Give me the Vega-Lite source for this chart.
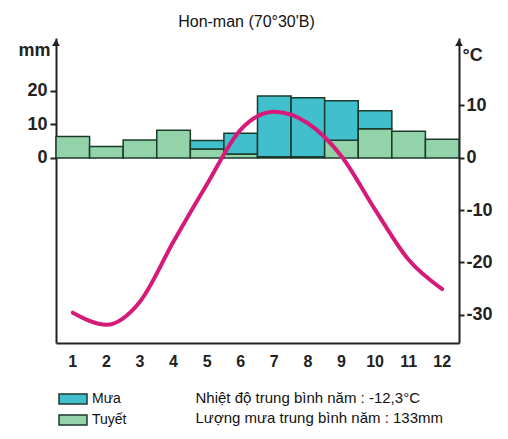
{
  "$schema": "https://vega.github.io/schema/vega-lite/v6.json",
  "width": 403,
  "height": 305,
  "autosize": {"type": "none"},
  "padding": {"left": 56, "top": 38, "right": 49, "bottom": 96},
  "background": "white",
  "title": {
    "text": "Hon-man (70°30'B)",
    "fontSize": 16,
    "font": "Liberation Sans",
    "fontWeight": "normal",
    "color": "#111",
    "dx": -11,
    "offset": 8
  },
  "config": {"view": {"stroke": null}, "font": "Liberation Sans"},
  "datasets": {
    "prec": [
      {"month": 1, "type": "Tuyết", "mm": 6.4},
      {"month": 2, "type": "Tuyết", "mm": 3.4},
      {"month": 3, "type": "Tuyết", "mm": 5.4},
      {"month": 4, "type": "Tuyết", "mm": 8.3},
      {"month": 5, "type": "Tuyết", "mm": 2.7},
      {"month": 5, "type": "Mưa", "mm": 2.5},
      {"month": 6, "type": "Tuyết", "mm": 1.2},
      {"month": 6, "type": "Mưa", "mm": 6.2},
      {"month": 7, "type": "Tuyết", "mm": 0.4},
      {"month": 7, "type": "Mưa", "mm": 18.1},
      {"month": 8, "type": "Tuyết", "mm": 0.4},
      {"month": 8, "type": "Mưa", "mm": 17.6},
      {"month": 9, "type": "Tuyết", "mm": 5.3},
      {"month": 9, "type": "Mưa", "mm": 11.8},
      {"month": 10, "type": "Tuyết", "mm": 8.7},
      {"month": 10, "type": "Mưa", "mm": 5.4},
      {"month": 11, "type": "Tuyết", "mm": 8.0},
      {"month": 12, "type": "Tuyết", "mm": 5.6}
    ],
    "temp": [
      {"month": 1, "t": -29.6},
      {"month": 2, "t": -31.9},
      {"month": 3, "t": -27.5},
      {"month": 4, "t": -16.0},
      {"month": 5, "t": -5.0},
      {"month": 6, "t": 5.4},
      {"month": 7, "t": 8.8},
      {"month": 8, "t": 6.6},
      {"month": 9, "t": 0.3},
      {"month": 10, "t": -9.9},
      {"month": 11, "t": -19.5},
      {"month": 12, "t": -25.1}
    ],
    "one": [{}]
  },
  "layer": [
    {
      "data": {"name": "prec"},
      "mark": {"type": "bar", "stroke": "#1c3a2c", "strokeWidth": 1.5},
      "encoding": {
        "x": {
          "field": "month",
          "type": "ordinal",
          "scale": {"paddingInner": 0, "paddingOuter": 0},
          "axis": {
            "orient": "bottom",
            "labelAngle": 0,
            "labelFontSize": 16,
            "labelFontWeight": "bold",
            "labelColor": "#222",
            "labelPadding": 10,
            "ticks": false,
            "domainColor": "#222",
            "domainWidth": 2,
            "title": ["Nhiệt độ trung bình năm :  -12,3°C", "Lượng mưa trung bình năm : 133mm"],
            "titleX": 139,
            "titleY": 47,
            "titleAlign": "left",
            "titleAnchor": "start",
            "titleBaseline": "top",
            "titleFontSize": 15,
            "titleFontWeight": "normal",
            "titleColor": "#111",
            "titleLineHeight": 20
          }
        },
        "y": {
          "field": "mm",
          "type": "quantitative",
          "stack": "zero",
          "scale": {"domain": [-55.2, 35.8], "nice": false, "zero": false},
          "axis": {
            "orient": "left",
            "values": [0, 10, 20],
            "grid": false,
            "title": "mm",
            "titleAngle": 0,
            "titleX": -6,
            "titleY": 12,
            "titleAlign": "right",
            "titleBaseline": "middle",
            "titleFontSize": 18,
            "titleFontWeight": "bold",
            "titleColor": "#222",
            "labelFontSize": 18,
            "labelFontWeight": "bold",
            "labelColor": "#222",
            "labelPadding": 3,
            "domainColor": "#222",
            "domainWidth": 2,
            "tickColor": "#222",
            "tickWidth": 2,
            "tickSize": 6
          }
        },
        "color": {
          "field": "type",
          "type": "nominal",
          "scale": {"domain": ["Mưa", "Tuyết"], "range": ["#41bfcd", "#93d3a9"]},
          "legend": {
            "orient": "none",
            "legendX": 9,
            "legendY": 353,
            "title": null,
            "padding": 0,
            "symbolType": "M-2,-0.7H2V0.7H-2Z",
            "symbolSize": 196,
            "symbolStrokeColor": "#1c3a2c",
            "symbolStrokeWidth": 1.5,
            "symbolOpacity": 1,
            "labelFontSize": 14,
            "labelColor": "#111",
            "labelOffset": 11,
            "rowPadding": 5
          }
        },
        "order": {"field": "type", "sort": "descending"}
      }
    },
    {
      "data": {"name": "temp"},
      "mark": {"type": "line", "interpolate": "monotone", "color": "#d61a7a", "strokeWidth": 4, "strokeCap": "round"},
      "encoding": {
        "x": {"field": "month", "type": "ordinal"},
        "y": {
          "field": "t",
          "type": "quantitative",
          "scale": {"domain": [-35.4, 22.9], "nice": false, "zero": false},
          "axis": {
            "orient": "right",
            "values": [-30, -20, -10, 0, 10],
            "labelExpr": "replace(datum.label, '−', '-')",
            "grid": false,
            "title": "°C",
            "titleAngle": 0,
            "titleX": 3,
            "titleY": 17,
            "titleAlign": "left",
            "titleBaseline": "middle",
            "titleFontSize": 18,
            "titleFontWeight": "bold",
            "titleColor": "#222",
            "labelFontSize": 18,
            "labelFontWeight": "bold",
            "labelColor": "#222",
            "labelPadding": 2,
            "domainColor": "#222",
            "domainWidth": 2,
            "tickColor": "#222",
            "tickWidth": 2,
            "tickSize": 5
          }
        }
      }
    },
    {
      "data": {"name": "one"},
      "mark": {"type": "point", "shape": "triangle-up", "filled": true, "color": "#222", "size": 60, "opacity": 1},
      "encoding": {
        "x": {"datum": 1, "type": "ordinal", "bandPosition": 0},
        "y": {"datum": 34.4, "type": "quantitative", "scale": {"domain": [-55.2, 35.8], "nice": false, "zero": false}, "axis": null}
      }
    },
    {
      "data": {"name": "one"},
      "mark": {"type": "point", "shape": "triangle-up", "filled": true, "color": "#222", "size": 60, "opacity": 1},
      "encoding": {
        "x": {"datum": 12, "type": "ordinal", "bandPosition": 1},
        "y": {"datum": 34.4, "type": "quantitative", "scale": {"domain": [-55.2, 35.8], "nice": false, "zero": false}, "axis": null}
      }
    }
  ],
  "resolve": {"scale": {"y": "independent"}}
}
